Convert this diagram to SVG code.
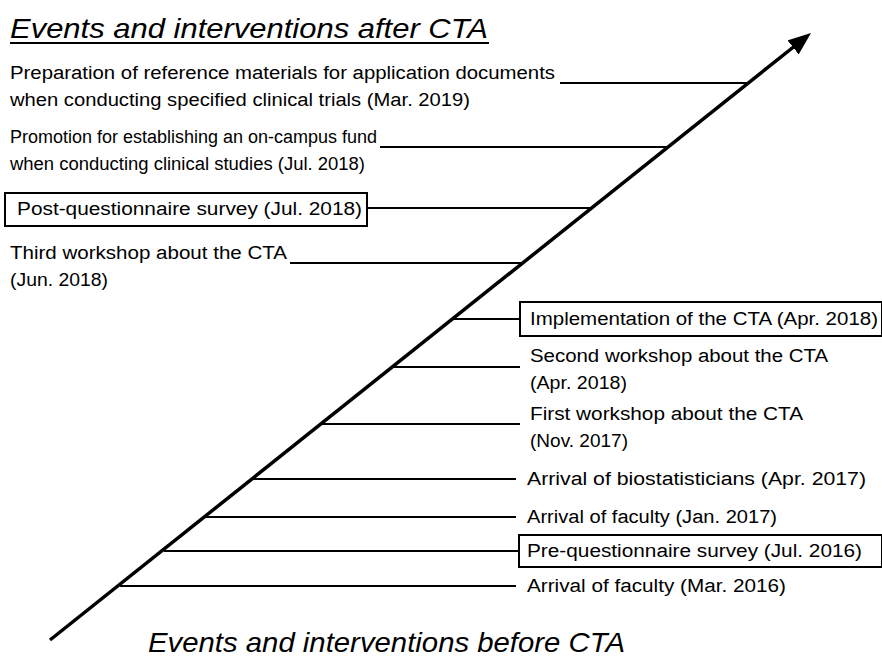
<svg xmlns="http://www.w3.org/2000/svg" width="882" height="660" viewBox="0 0 882 660">
<style>
text{font-family:"Liberation Sans",Arial,sans-serif;font-size:18px;fill:#000}
.t{font-style:italic;font-size:28px}
.c{stroke:#000;stroke-width:2;fill:none}
.b{fill:#fff;stroke:#000;stroke-width:2}
</style>
<defs>
<marker id="ah" markerWidth="24" markerHeight="20" refX="7" refY="9" orient="auto" markerUnits="userSpaceOnUse">
<path d="M0,0 L23,9 L0,18 Z" fill="#000"/>
</marker>
</defs>
<g id="titles">
<text class="t" x="10" y="38" textLength="478" lengthAdjust="spacingAndGlyphs">Events and interventions after CTA</text>
<line x1="10" y1="43" x2="489" y2="43" stroke="#000" stroke-width="2"/>
<text class="t" x="148" y="652" textLength="477" lengthAdjust="spacingAndGlyphs">Events and interventions before CTA</text>
</g>
<g id="connectors">
<line x1="50" y1="640" x2="798.5" y2="43" stroke="#000" stroke-width="3.5" marker-end="url(#ah)"/>
<line class="c" x1="560" y1="83" x2="748" y2="83"/>
<line class="c" x1="380" y1="147" x2="668" y2="147"/>
<line class="c" x1="367" y1="208" x2="592" y2="208"/>
<line class="c" x1="290" y1="263" x2="523" y2="263"/>
<line class="c" x1="453" y1="319" x2="520" y2="319"/>
<line class="c" x1="393" y1="367" x2="520" y2="367"/>
<line class="c" x1="322" y1="424" x2="520" y2="424"/>
<line class="c" x1="254" y1="479" x2="516" y2="479"/>
<line class="c" x1="206" y1="517" x2="516" y2="517"/>
<line class="c" x1="164" y1="551" x2="519" y2="551"/>
<line class="c" x1="120" y1="586" x2="516" y2="586"/>
</g>
<g id="n-prep">
<text x="10" y="79" textLength="545" lengthAdjust="spacingAndGlyphs">Preparation of reference materials for application documents</text>
<text x="10" y="106" textLength="460" lengthAdjust="spacingAndGlyphs">when conducting specified clinical trials (Mar. 2019)</text>
</g>
<g id="n-promo">
<text x="10" y="143" textLength="367" lengthAdjust="spacingAndGlyphs">Promotion for establishing an on-campus fund</text>
<text x="10" y="170" textLength="355" lengthAdjust="spacingAndGlyphs">when conducting clinical studies (Jul. 2018)</text>
</g>
<g id="n-post">
<rect class="b" x="5" y="193" width="362" height="33"/>
<text x="17" y="215" textLength="345" lengthAdjust="spacingAndGlyphs">Post-questionnaire survey (Jul. 2018)</text>
</g>
<g id="n-third">
<text x="10" y="259" textLength="277" lengthAdjust="spacingAndGlyphs">Third workshop about the CTA</text>
<text x="10" y="286" textLength="98" lengthAdjust="spacingAndGlyphs">(Jun. 2018)</text>
</g>
<g id="n-impl">
<rect class="b" x="520" y="302" width="362" height="34"/>
<text x="530" y="325" textLength="348" lengthAdjust="spacingAndGlyphs">Implementation of the CTA (Apr. 2018)</text>
</g>
<g id="n-second">
<text x="530" y="362" textLength="298" lengthAdjust="spacingAndGlyphs">Second workshop about the CTA</text>
<text x="530" y="389" textLength="97" lengthAdjust="spacingAndGlyphs">(Apr. 2018)</text>
</g>
<g id="n-first">
<text x="530" y="420" textLength="273" lengthAdjust="spacingAndGlyphs">First workshop about the CTA</text>
<text x="530" y="447" textLength="98" lengthAdjust="spacingAndGlyphs">(Nov. 2017)</text>
</g>
<g id="n-bio">
<text x="527" y="485" textLength="339" lengthAdjust="spacingAndGlyphs">Arrival of biostatisticians (Apr. 2017)</text>
</g>
<g id="n-fac2017">
<text x="527" y="523" textLength="250" lengthAdjust="spacingAndGlyphs">Arrival of faculty (Jan. 2017)</text>
</g>
<g id="n-pre">
<rect class="b" x="519" y="535" width="363" height="32"/>
<text x="527" y="557" textLength="335" lengthAdjust="spacingAndGlyphs">Pre-questionnaire survey (Jul. 2016)</text>
</g>
<g id="n-fac2016">
<text x="527" y="592" textLength="259" lengthAdjust="spacingAndGlyphs">Arrival of faculty (Mar. 2016)</text>
</g>
</svg>
